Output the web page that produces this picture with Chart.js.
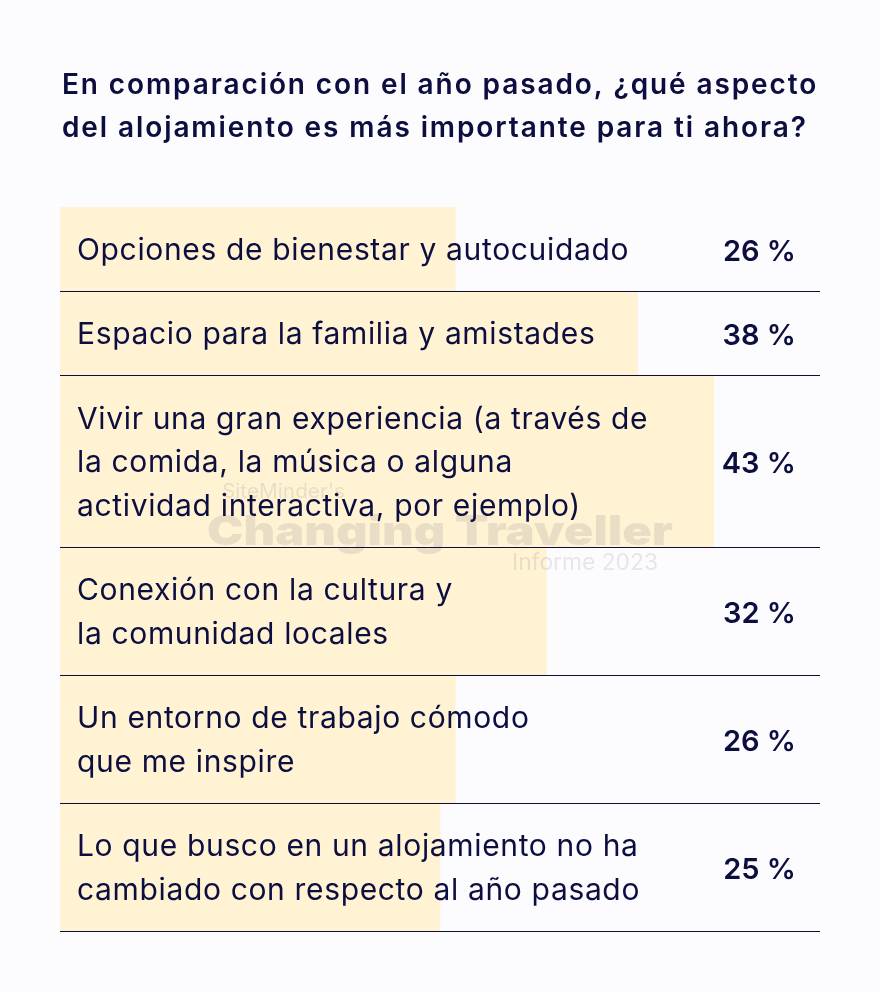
<!DOCTYPE html>
<html lang="es">

<head>
    <meta charset="UTF-8">
    <title>Aspecto del alojamiento</title>
    <style>
        body { margin: 0; background: #fcfbfd; }
        canvas { position: absolute; left: 0; top: 0; }
    </style>
</head>

<body>
    <canvas id="grafico" width="880" height="992"></canvas>

    <script src="https://cdn.jsdelivr.net/npm/chart.js"></script>

    <script>
        // datos
        const titulo = ['En comparación con el año pasado, ¿qué aspecto', 'del alojamiento es más importante para ti ahora?']
        const categorias = [
            ['Opciones de bienestar y autocuidado'],
            ['Espacio para la familia y amistades'],
            ['Vivir una gran experiencia (a través de', 'la comida, la música o alguna', 'actividad interactiva, por ejemplo)'],
            ['Conexión con la cultura y', 'la comunidad locales'],
            ['Un entorno de trabajo cómodo', 'que me inspire'],
            ['Lo que busco en un alojamiento no ha', 'cambiado con respecto al año pasado']
        ]
        const valores = [26, 38, 43, 32, 26, 25]
        const escalaMax = 50

        const navy = '#0c0e3f'
        const amarillo = '#fff3d4'
        const fuente = 'Inter, sans-serif'

        // alto de cada fila segun lineas de texto
        const ALTO_LINEA = 44
        const RELLENO = 40
        const ARRIBA = 207
        const altos = categorias.map(l => RELLENO + ALTO_LINEA * l.length)
        const bordes = []
        let acum = 0
        altos.forEach(h => { acum += h; bordes.push(acum) })
        const total = acum
        const centros = altos.map((h, i) => bordes[i] - h / 2)

        const datasets = valores.map((v, i) => ({
            data: [{ x: v, y: centros[i] }],
            backgroundColor: amarillo,
            borderWidth: 0,
            barThickness: altos[i],
            grouped: false
        }))

        // texto ajustado a un ancho
        function textoAncho(ctx, t, x, y, ancho, sy) {
            const w = ctx.measureText(t).width
            ctx.save()
            ctx.translate(x, y)
            ctx.scale(ancho / w, sy)
            ctx.fillText(t, 0, 0)
            ctx.restore()
        }

        // titulo, marca de agua y textos
        const textos = {
            id: 'textos',
            afterDatasetsDraw(chart) {
                const ctx = chart.ctx
                ctx.save()
                ctx.fillStyle = 'rgba(60,50,90,0.11)'
                ctx.textBaseline = 'alphabetic'
                ctx.font = '400 20px ' + fuente
                textoAncho(ctx, "SiteMinder's", 222, 498, 123, 1)
                ctx.font = '900 34px ' + fuente
                textoAncho(ctx, 'Changing Traveller', 207, 545, 466, 1.2)
                ctx.font = '400 23px ' + fuente
                textoAncho(ctx, 'Informe 2023', 512, 570, 146, 1)
                ctx.restore()
            },
            afterDraw(chart) {
                const ctx = chart.ctx
                const y = chart.scales.y
                ctx.save()
                ctx.fillStyle = navy
                ctx.textBaseline = 'alphabetic'

                ctx.font = '600 28px ' + fuente
                ctx.letterSpacing = '1.9px'
                titulo.forEach((t, i) => ctx.fillText(t, 62, 94 + i * 43))

                categorias.forEach((lineas, i) => {
                    const cy = y.getPixelForValue(centros[i])
                    ctx.font = '400 30px ' + fuente
                    ctx.letterSpacing = '0.65px'
                    ctx.textAlign = 'left'
                    lineas.forEach((t, j) => {
                        ctx.fillText(t, 77, cy + 11 + (j - (lineas.length - 1) / 2) * 43.5)
                    })
                    ctx.font = '600 29px ' + fuente
                    ctx.letterSpacing = '0px'
                    ctx.textAlign = 'right'
                    ctx.fillText(valores[i] + ' %', 796, cy + 12)
                })
                ctx.restore()
            }
        }

        new Chart(document.getElementById('grafico'), {
            type: 'bar',
            data: { datasets },
            options: {
                indexAxis: 'y',
                responsive: false,
                animation: false,
                events: [],
                layout: { padding: { top: ARRIBA, left: 60, right: 60, bottom: 992 - ARRIBA - total } },
                plugins: { legend: { display: false }, tooltip: { enabled: false } },
                scales: {
                    x: { type: 'linear', display: false, min: 0, max: escalaMax, offset: false },
                    y: {
                        type: 'linear', reverse: true, min: 0, max: total, offset: false,
                        afterBuildTicks: s => { s.ticks = bordes.map(v => ({ value: v })) },
                        ticks: { display: false },
                        border: { display: false },
                        grid: { color: navy, lineWidth: 1, drawTicks: false, offset: false, z: 1 }
                    }
                }
            },
            plugins: [textos]
        })
    </script>

</body>

</html>
